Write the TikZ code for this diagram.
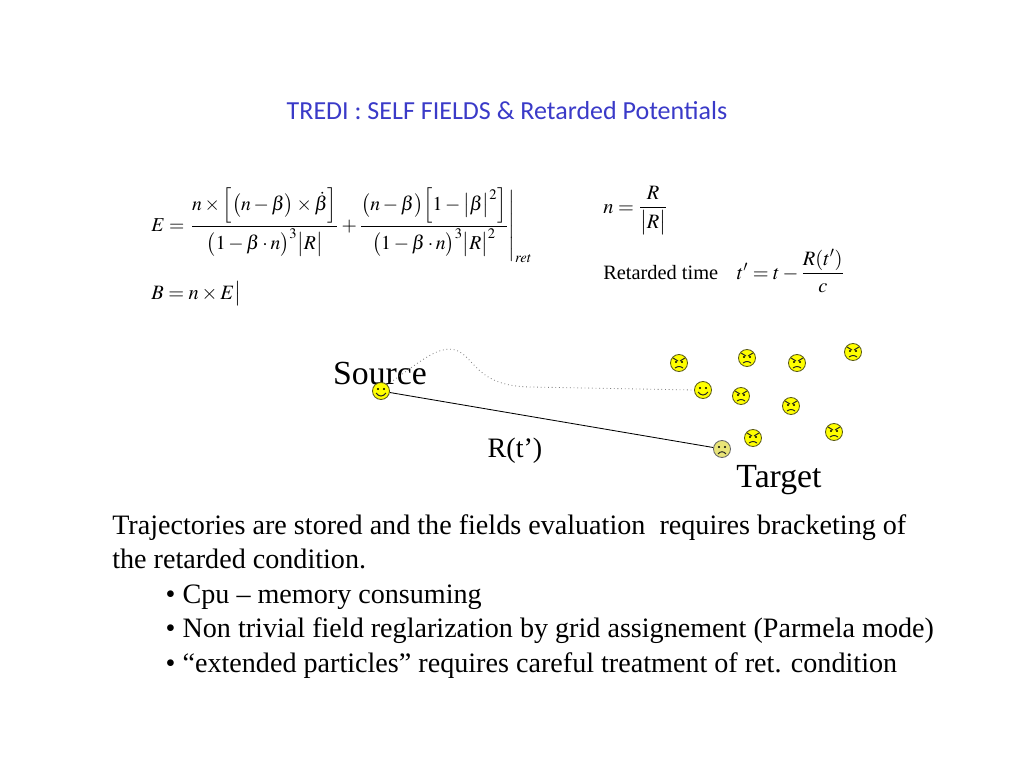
\documentclass[tikz,border=0pt]{standalone}
\usepackage{mathptmx}
\usepackage{amsmath}
\usepackage{fontspec}
\setmainfont{Liberation Serif}
\newfontfamily\titlefont{Carlito}
\definecolor{titleblue}{RGB}{58,58,200}
\definecolor{faceyellow}{RGB}{255,255,0}
\definecolor{faceline}{RGB}{90,90,20}
\definecolor{palefacey}{RGB}{232,228,120}
\tikzset{
	face/.style={circle, draw=faceline, fill=faceyellow, line width=0.6pt, minimum size=17*0.025cm, inner sep=0pt},
	feat/.style={line width=0.7pt, draw=black!85},
}

\begin{document}
\begin{tikzpicture}[x=0.025cm, y=-0.025cm]
	\useasboundingbox (0,0) rectangle (1024,768);
	% title
	\draw (507,111) node[text=titleblue, font=\titlefont\fontsize{18.5}{22}\selectfont](title) {TREDI : SELF FIELDS \& Retarded Potentials};
	% formulas
	\draw (151,231) node[anchor=base west, inner sep=0pt, font=\fontsize{14}{17}\selectfont](efield) {$E=\left.\dfrac{n\times\Bigl[\bigl(n-\beta\bigr)\times\dot{\beta}\Bigr]}{\bigl(1-\beta\cdot n\bigr)^{3}\bigl|R\bigr|}+\dfrac{\bigl(n-\beta\bigr)\Bigl[1-\bigl|\beta\bigr|^{2}\Bigr]}{\bigl(1-\beta\cdot n\bigr)^{3}\bigl|R\bigr|^{2}}\right|_{ret}$};
	\draw (151,299) node[anchor=base west, inner sep=0pt, font=\fontsize{14.5}{17}\selectfont](bfield) {$B=n\times E\bigr|$};
	\draw (603,213) node[anchor=base west, inner sep=0pt, font=\fontsize{14.5}{17}\selectfont](ndef) {$n=\dfrac{R}{\bigl|R\bigr|}$};
	\draw (603,279) node[anchor=base west, inner sep=0pt, font=\fontsize{14.5}{17}\selectfont](rettime) {Retarded time\enspace\, $t'=t-\dfrac{R(t')}{c}$};
	% labels
	\draw (380,373) node[font=\fontsize{24}{28}\selectfont](srclabel) {Source};
	\draw (779,480) node[font=\fontsize{24}{28}\selectfont](tgtlabel) {Target};
	\draw (515,451) node[font=\fontsize{20}{24}\selectfont](rlabel) {R(t’)};
	% source and target
	\draw (381,391) node[face](src) {};
	\draw (703,390) node[face](smile) {};
	\draw (722,449) node[face, fill=palefacey, draw=black!60](tgt) {};
	\draw[feat, shift={(src)}] (-5,2) .. controls (-2,6) and (2,6) .. (5,2);
	\draw[feat, shift={(smile)}] (-5,2) .. controls (-2,6) and (2,6) .. (5,2);
	\draw[feat, shift={(tgt)}] (-4,5) .. controls (-2,2) and (2,2) .. (4,5);
	\foreach \nm in {src, smile, tgt}
		\fill[black, shift={(\nm)}] (-3,-2) circle (1.1) (3,-2) circle (1.1);
	% paths
	\draw[line width=0.6pt] (src) -- (tgt);
	\draw[gray, dotted, line width=0.6pt] (src.north east) .. controls (420,362) and (440,343) .. (458,351) .. controls (476,360) and (478,386) .. (530,387) -- (smile.west);
	% the other particles
	\foreach \nm/\px/\py in {p1/679/363, p2/747/358, p3/797/363, p4/853/352, p5/741/396, p6/791/406, p7/834/432, p8/753/438} {
		\draw (\px,\py) node[face](\nm) {};
		\fill[black, shift={(\nm)}] (-3,-1) circle (1.1) (3,-1) circle (1.1);
		\draw[feat, shift={(\nm)}] (-6,-5) -- (-1,-2) (6,-5) -- (1,-2);
		\draw[feat, shift={(\nm)}] (-4,5) .. controls (-1,3) and (1,3) .. (4,5);
	}
	% text
	\draw (112,672) node[anchor=base west, inner sep=0pt, align=left, font=\fontsize{20}{24.5}\selectfont](body) {Trajectories are stored and the fields evaluation\ \ requires bracketing of\\the retarded condition.\\\hspace{38pt}• Cpu – memory consuming\\\hspace{38pt}• Non trivial field reglarization by grid assignement (Parmela mode)\\\hspace{38pt}• “extended particles” requires careful treatment of ret. condition};
\end{tikzpicture}
\end{document}
